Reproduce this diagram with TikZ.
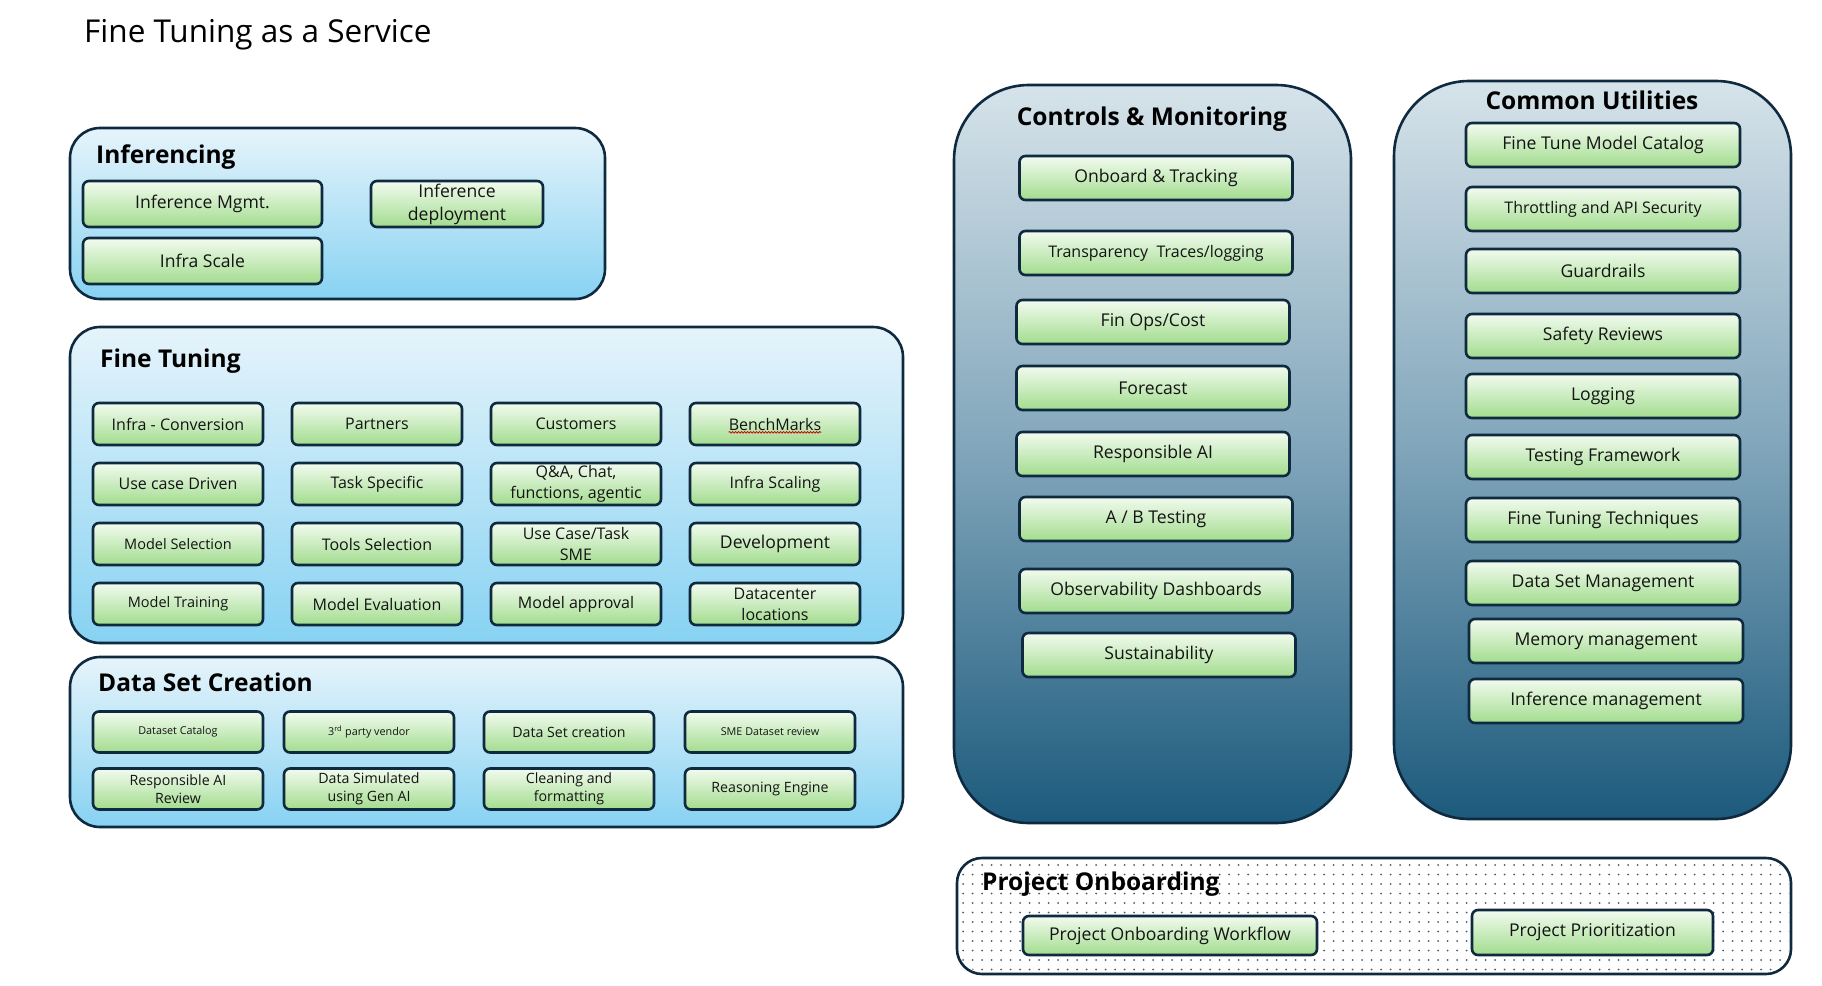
\documentclass[tikz,border=0pt]{standalone}
\usepackage{fontspec}
\setmainfont{Open Sans}
\usepackage{tikz}
\usetikzlibrary{decorations.pathmorphing}
\definecolor{navy}{HTML}{0F2A3F}
\definecolor{skytop}{HTML}{E6F4FB}
\definecolor{skybot}{HTML}{87D2F2}
\definecolor{steeltop}{HTML}{D6E3EA}
\definecolor{steelmid}{HTML}{80A5BA}
\definecolor{steelbot}{HTML}{1C5A7C}
\definecolor{leaftop}{HTML}{F2FBEF}
\definecolor{leafbot}{HTML}{A2DC8E}
\definecolor{ink}{HTML}{141414}
\definecolor{dotc}{HTML}{4A5A66}

\begin{document}
\begin{tikzpicture}[x=1pt,y=1pt,
  panel/.style={draw=navy, line width=2.6pt, rounded corners=30pt, top color=skytop, bottom color=skybot},
  column/.style={draw=navy, line width=2.6pt, rounded corners=75pt, top color=steeltop, bottom color=steelbot, middle color=steelmid},
  item/.style={draw=navy, line width=2.6pt, rounded corners=6pt, top color=leaftop, bottom color=leafbot,
    minimum width=170pt, minimum height=42pt, inner sep=0pt, align=center, text=ink},
  head/.style={font=\fontsize{24.5}{28}\selectfont\bfseries, text=black, inner sep=0pt}]
\useasboundingbox (0,0) rectangle (1822,-985);
\node[anchor=west, font=\fontsize{31.5}{34}\selectfont, inner sep=0pt] (title) at (84,-35) {Fine Tuning as a Service};

\draw[panel] (70,-128) rectangle (605,-299);
\draw[panel] (70,-327) rectangle (903,-643);
\draw[panel] (70,-657) rectangle (903,-827);
\draw[column] (954,-85) rectangle (1351,-823);
\draw[column] (1394,-81) rectangle (1791,-819);
\draw[navy, line width=2.6pt, rounded corners=25pt, fill=white] (957,-858) rectangle (1791,-974);
\begin{scope}
  \clip[rounded corners=24pt] (959,-860) rectangle (1789,-972);
  \foreach \x in {963,972.5,...,1790}
    \foreach \y in {-865,-874.5,...,-972}
      \fill[dotc] (\x,\y) circle (1.0);
\end{scope}

\node[head, anchor=west] (inf) at (96,-157) {Inferencing};
\node[head, anchor=west] (ft) at (100,-361) {Fine Tuning};
\node[head, anchor=west] (dsc) at (98,-682) {Data Set Creation};
\node[head] (cm) at (1152,-119) {Controls \& Monitoring};
\node[head] (cu) at (1592,-100) {Common Utilities};
\node[head, anchor=west] (po) at (982,-884) {Project Onboarding};

\node[item, minimum width=239pt, minimum height=46pt, font=\fontsize{17.6}{22}\selectfont] (im) at (202.5,-204) {Inference Mgmt.};
\node[item, minimum width=239pt, minimum height=46pt, font=\fontsize{17.6}{22}\selectfont] (is) at (202.5,-261) {Infra Scale};
\node[item, minimum width=172pt, minimum height=46pt, font=\fontsize{17.6}{23}\selectfont] (idp) at (457,-204) {Inference\\deployment};

\foreach \c/\r/\s/\t in {1/1/16/Infra - Conversion, 2/1/16/Partners, 3/1/16/Customers, 4/1/16/BenchMarks,
    1/2/16/Use case Driven, 2/2/16/Task Specific, 3/2/16/{Q\&A, Chat,\\functions, agentic}, 4/2/16/Infra Scaling,
    1/3/14.5/Model Selection, 2/3/16/Tools Selection, 3/3/16/{Use Case/Task\\SME}, 4/3/17.6/Development,
    1/4/14.5/Model Training, 2/4/16/Model Evaluation, 3/4/16/Model approval, 4/4/16/{Datacenter\\locations}}
  \node[item, font=\fontsize{\s}{21}\selectfont] (ft-\c-\r) at ({178+(\c-1)*199},{-424-(\r-1)*60}) {\t};
\draw[red!80!black, line width=0.8pt, decorate, decoration={snake, amplitude=0.8pt, segment length=3pt}]
  ([shift={(40,14)}]ft-4-1.south west) -- ([shift={(-40,14)}]ft-4-1.south east);

\foreach \x/\y/\s/\t [count=\i] in {178/-732/10.8/Dataset Catalog, 369/-732/10.8/{3\textsuperscript{rd} party vendor},
    569/-732/14.2/Data Set creation, 770/-732/10.8/SME Dataset review,
    178/-789/14.2/{Responsible AI\\Review}, 369/-789/14.2/{Data Simulated\\using Gen AI},
    569/-789/14.2/{Cleaning and\\formatting}, 770/-789/14.2/Reasoning Engine}
  \node[item, minimum height=41pt, font=\fontsize{\s}{18.5}\selectfont] (ds\i) at (\x,\y) {\t};

\foreach \x/\y/\s/\t [count=\i] in {1156/-178/17.6/Onboard \& Tracking, 1156/-253/16/{Transparency\ \ Traces/logging},
    1153/-322/17.6/{Fin Ops/Cost}, 1153/-388/17.6/Forecast, 1153/-454/17.6/Responsible AI,
    1156/-519/17.6/{A / B Testing}, 1156/-591/17.6/Observability Dashboards, 1159/-655/17.6/Sustainability}
  \node[item, minimum width=273pt, minimum height=44pt, font=\fontsize{\s}{22}\selectfont] (cm\i) at (\x,\y) {\t};

\foreach \x/\y/\s/\t [count=\i] in {1603/-145/17.6/Fine Tune Model Catalog, 1603/-209/16/Throttling and API Security,
    1603/-271/17.6/Guardrails, 1603/-336/17.6/Safety Reviews, 1603/-396/17.6/Logging, 1603/-457/17.6/Testing Framework,
    1603/-520/17.6/Fine Tuning Techniques, 1603/-583/17.6/Data Set Management, 1606/-641/17.6/Memory management,
    1606/-701/17.6/Inference management}
  \node[item, minimum width=274pt, minimum height=44pt, font=\fontsize{\s}{22}\selectfont] (cu\i) at (\x,\y) {\t};

\node[item, minimum width=294pt, minimum height=39pt, font=\fontsize{17.6}{22}\selectfont] (pow) at (1170,-935.5) {Project Onboarding Workflow};
\node[item, minimum width=241pt, minimum height=45pt, font=\fontsize{17.6}{22}\selectfont] (pp) at (1592.5,-932.5) {Project Prioritization};
\end{tikzpicture}
\end{document}
